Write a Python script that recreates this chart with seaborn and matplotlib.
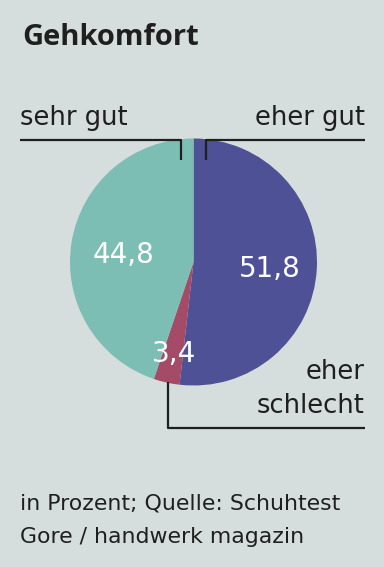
import matplotlib
matplotlib.use("Agg")
import matplotlib.pyplot as plt
import seaborn as sns

# Data
categories = ["eher gut", "eher schlecht", "sehr gut"]
values = [51.8, 3.4, 44.8]
value_labels = ["51,8", "3,4", "44,8"]
colors = ["#4f5197", "#a34b67", "#7cbdb4"]

title = "Gehkomfort"
footer = ["in Prozent; Quelle: Schuhtest", "Gore / handwerk magazin"]

sns.set_theme(style="white")
plt.rcParams["font.family"] = ["DejaVu Sans"]

BG = "#d5dedd"
TXT = "#1f1f1f"
W, H = 384, 567
fig = plt.figure(figsize=(W / 100, H / 100), dpi=100, facecolor=BG)

# Pie axes: center (193.5, 262) px, radius 123.5 px
cx, cy, r = 193.5, 262, 123.5
half = 1.25 * r
pax = fig.add_axes([(cx - half) / W, (H - cy - half) / H, 2 * half / W, 2 * half / H])
pax.set_facecolor(BG)
wedges, _ = pax.pie(values, colors=colors, startangle=90, counterclock=False,
                    wedgeprops=dict(linewidth=0))
pax.set_xlim(-1.25, 1.25)
pax.set_ylim(-1.25, 1.25)
pax.set_aspect("equal")
pax.axis("off")

# Overlay axes in pixel coordinates for texts and leader lines
ax = fig.add_axes([0, 0, 1, 1], facecolor="none")
ax.set_xlim(0, W)
ax.set_ylim(H, 0)
ax.axis("off")

ax.text(22, 45, title, fontsize=21, fontweight="bold", color=TXT, va="baseline", ha="left",
        family=["Open Sans", "DejaVu Sans"])

lab_fs = 18.5
ax.text(20, 125, categories[2], fontsize=lab_fs, color=TXT, va="baseline", ha="left")
ax.text(365, 125, categories[0], fontsize=lab_fs, color=TXT, va="baseline", ha="right")
ax.text(365, 379, "eher", fontsize=lab_fs, color=TXT, va="baseline", ha="right")
ax.text(365, 413, "schlecht", fontsize=lab_fs, color=TXT, va="baseline", ha="right")

lw = 1.6
ax.plot([20, 181, 181], [139.5, 139.5, 160], color=TXT, lw=lw, solid_capstyle="butt")
ax.plot([206, 206, 365], [160, 139.5, 139.5], color=TXT, lw=lw, solid_capstyle="butt")
ax.plot([168, 168, 365], [382, 428, 428], color=TXT, lw=lw, solid_capstyle="butt")

num_fs = 20
ax.text(270, 269, value_labels[0], fontsize=num_fs, color="white", ha="center", va="center")
ax.text(124, 255, value_labels[2], fontsize=num_fs, color="white", ha="center", va="center")
ax.text(174, 354, value_labels[1], fontsize=num_fs, color="white", ha="center", va="center")

ax.text(20, 509, footer[0], fontsize=15.8, color=TXT, va="baseline", ha="left")
ax.text(20, 543, footer[1], fontsize=15.8, color=TXT, va="baseline", ha="left")

fig.savefig("out.png", dpi=100, facecolor=BG)
